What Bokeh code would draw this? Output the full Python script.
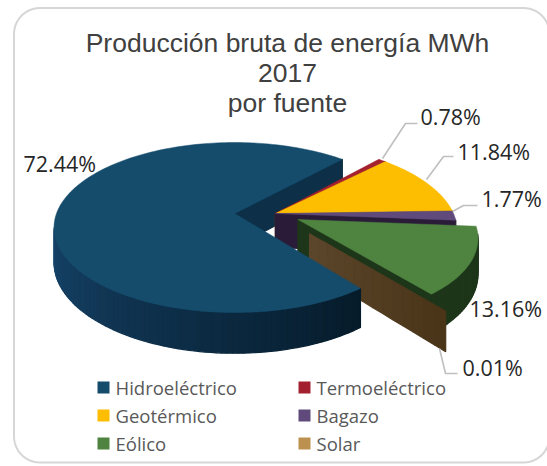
import numpy as np
from bokeh.plotting import figure
from bokeh.models import Range1d
from bokeh.core.properties import value
from bokeh.embed import file_html
from bokeh.resources import INLINE

# ---- data ----
categories = ["Hidroeléctrico", "Termoeléctrico", "Geotérmico", "Bagazo", "Eólico", "Solar"]
shares = [72.44, 0.78, 11.84, 1.77, 13.16, 0.01]
title_lines = ["Producción bruta de energía MWh", "2017", "por fuente"]
top_colors = ["#154C6C", "#A3202F", "#FDBD00", "#5F4A7B", "#4E8340", "#BC9150"]
wall_colors = ["#0D2F47", "#5A1018", "#7A5C00", "#2A1C38", "#1D3519", "#54402A"]

# ---- layout of the perspective pie (page pixels) ----
CX, CY, A, B, PERSP, DEPTH = 234.0, 213.0, 178.0, 82.7, 0.165, 34.0
START = 52.0
OFFSETS = [(0, 0), (.23, 0), (.23, 0), (.23, 0), (.352, .072), (.405, .236)]
RADII = [1, 1, 1, 1, .975, .955]
FRONT = (9.5, 170.5)


def proj(X, Y, down=False):
    X, Y = np.asarray(X, float), np.asarray(Y, float)
    w = 1 - PERSP * Y
    x = CX + A * X / w
    y = CY + B * Y / w
    if down:
        y = y + DEPTH / w
    return x, y


def lerp(c1, c2, f):
    a = [int(c1[i:i + 2], 16) for i in (1, 3, 5)]
    b = [int(c2[i:i + 2], 16) for i in (1, 3, 5)]
    return "#%02x%02x%02x" % tuple(int(round(p + (q - p) * f)) for p, q in zip(a, b))


p = figure(width=547, height=466, x_range=Range1d(0, 547), y_range=Range1d(466, 0),
           toolbar_location=None, output_backend="svg", min_border=0,
           background_fill_color="white", border_fill_color="white", outline_line_color=None)
p.axis.visible = False
p.grid.visible = False

# card border
R = 26
L, Rt, T, Bt = 13.5, 549, 7.5, 462
tt = np.radians(np.linspace(0, 90, 14))
bx = list(L + R - R * np.sin(tt[::-1])) + list(Rt - R + R * np.sin(tt))
by = list(T + R - R * np.cos(tt[::-1])) + list(T + R - R * np.cos(tt))
bx += list(Rt - R + R * np.cos(tt)) + list(L + R - R * np.cos(tt[::-1]))
by += list(Bt - R + R * np.sin(tt)) + list(Bt - R + R * np.sin(tt[::-1]))
bx.append(bx[0]); by.append(by[0])
p.line(bx, by, line_color="#d6d6d6", line_width=2)

# slice angles from the shares
spans = [s / sum(shares) * 360 for s in shares]
starts = (START + np.concatenate([[0], np.cumsum(spans)[:-1]])) % 360


def arc(i, a0=None, a1=None):
    a0 = starts[i] if a0 is None else a0
    a1 = starts[i] + spans[i] if a1 is None else a1
    n = max(2, int(abs(a1 - a0) / 1.5) + 2)
    t = np.radians(np.linspace(a0, a1, n))
    ox, oy = OFFSETS[i]
    return ox + RADII[i] * np.cos(t), oy + RADII[i] * np.sin(t)


def radial_wall(i, colors=None):
    ox, oy = OFFSETS[i]
    e = np.radians(starts[i] + spans[i])
    ex, ey = ox + RADII[i] * np.cos(e), oy + RADII[i] * np.sin(e)
    n = 1 if colors is None else 14
    fs = np.linspace(0, 1, n + 1)
    xs, ys, cs = [], [], []
    for k in range(n):
        qx = ox + (ex - ox) * fs[[k, k + 1]]
        qy = oy + (ey - oy) * fs[[k, k + 1]]
        x1, y1 = proj(qx, qy)
        x2, y2 = proj(qx, qy, True)
        xs.append(list(x1) + list(x2[::-1]))
        ys.append(list(y1) + list(y2[::-1]))
        cs.append(wall_colors[i] if colors is None else lerp(colors[0], colors[1], k / max(1, n - 1)))
    p.patches(xs, ys, fill_color=cs, line_color=cs, line_width=1.2)


def outer_wall(i, c0, c1):
    a0, a1 = max(starts[i], FRONT[0]), min(starts[i] + spans[i], FRONT[1])
    if a1 <= a0:
        return
    X, Y = arc(i, a0, a1)
    xt, yt = proj(X, Y)
    xb, yb = proj(X, Y, True)
    xs, ys, cs = [], [], []
    for k in range(len(X) - 1):
        xs.append([xt[k], xt[k + 1], xb[k + 1], xb[k]])
        ys.append([yt[k], yt[k + 1], yb[k + 1], yb[k]])
        cs.append(lerp(c0, c1, k / max(1, len(X) - 2)))
    p.patches(xs, ys, fill_color=cs, line_color=cs, line_width=1.2)


def top_face(i, lw=0.5):
    X, Y = arc(i)
    ox, oy = OFFSETS[i]
    x, y = proj(np.r_[ox, X], np.r_[oy, Y])
    p.patch(list(x), list(y), fill_color=top_colors[i], line_color=top_colors[i], line_width=lw)


# back to front
radial_wall(0)
for i in (1, 2, 3):
    radial_wall(i)
    top_face(i)
outer_wall(4, wall_colors[4], wall_colors[4])
radial_wall(4)
top_face(4)
radial_wall(5, ("#5C462B", "#4A3519"))
outer_wall(0, "#061B2A", "#16446A")
top_face(0)

# title
for line, y in zip(title_lines, (42, 72, 102)):
    p.text([287], [y], text=[line], text_align="center", text_baseline="middle",
           text_font=value("Liberation Sans"), text_font_size="26.5px", text_color="#404040")

# data labels and leaders
leaders = [([382, 405, 417], [158, 123, 123]),
           ([426, 443, 453], [179, 156, 156]),
           ([452, 463, 477], [211, 205, 205]),
           ([439, 445, 457], [348, 373, 373])]
for lx, ly in leaders:
    p.line(lx, ly, line_color="#bfbfbf", line_width=1.6)

label_x = [23, 420, 457, 481, 469, 462]
label_y = [163, 116, 151, 198, 308, 367]
for i, (x, y) in enumerate(zip(label_x, label_y)):
    p.text([x], [y], text=["%.2f%%" % shares[i]], text_align="left", text_baseline="middle",
           text_font=value("Open Sans"), text_font_size="21.5px", text_color="#262626")

# legend
leg_x = [97, 298]
leg_y = [387, 415, 443]
for i, name in enumerate(categories):
    x = leg_x[i % 2]
    y = leg_y[i // 2]
    p.quad(left=[x], right=[x + 12], top=[y - 6], bottom=[y + 6], fill_color=top_colors[i], line_color=None)
    p.text([x + 18], [y], text=[name], text_align="left", text_baseline="middle",
           text_font=value("Open Sans"), text_font_size="18.5px", text_color="#595959")

open("out.html", "w").write(file_html(p, INLINE))
